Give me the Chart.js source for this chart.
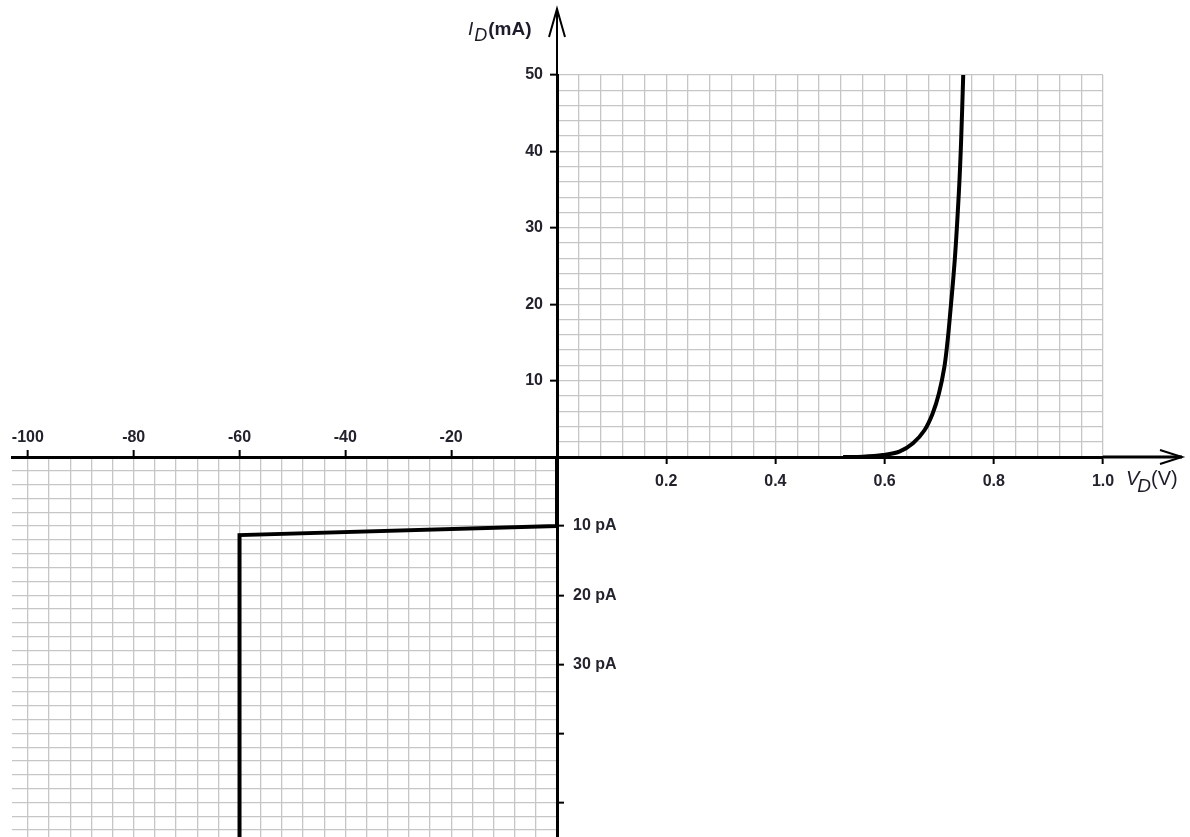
<!DOCTYPE html>
<html>
<head>
<meta charset="utf-8">
<title>Diode I-V characteristic</title>
<script src="https://cdn.jsdelivr.net/npm/chart.js@4.4.1/dist/chart.umd.min.js"></script>
<style>
  html, body { margin: 0; padding: 0; background: #ffffff; }
  #wrap { position: relative; width: 1190px; height: 837px; overflow: hidden; }
  #wrap canvas { position: absolute; left: 0; top: 0; }
</style>
</head>
<body>
<div id="wrap">
  <canvas id="rev" width="1190" height="837"></canvas>
  <canvas id="fwd" width="1190" height="837"></canvas>
</div>
<script>
// ---------- data ----------
// Forward bias: V_D in volts, I_D in mA
const forwardVoltage   = [0.524, 0.56, 0.597, 0.627, 0.652, 0.673, 0.688, 0.6995, 0.7095, 0.7155, 0.719, 0.7285, 0.736, 0.740, 0.744];
const forwardCurrentMA = [0,     0.04, 0.26,  0.7,   1.8,   3.5,   5.7,   8.3,    11.8,   15.3,   17.9,  25.8,   34.6,  41.1,  50];
// Reverse bias: V_D in volts, I_D in pA (negative = reverse current)
const reverseVoltage   = [0, 0,   -60,   -60];
const reverseCurrentPA = [0, -10, -11.3, -70];
// tick labels
const forwardVTicks   = [0.2, 0.4, 0.6, 0.8, 1.0];
const forwardITicks   = [10, 20, 30, 40, 50];
const reverseVTicks   = [-100, -80, -60, -40, -20];
const reverseILabels  = [10, 20, 30];
const reverseIMarks   = [10, 20, 30, 40, 50];

// ---------- helpers ----------
const isIn = (arr, v) => arr.some(a => Math.abs(a - v) < 1e-6);
const FAM = '"Liberation Sans", Arial, sans-serif';
const tickFont = { family: FAM, size: 16, weight: 'bold' };
const tickColor = '#23232f';
const gridColor = '#c6c6c6';
const markColor = (arr, sign) => (c) => (c.tick && isIn(arr, sign * c.tick.value)) ? '#000000' : 'rgba(0,0,0,0)';
const fixSize = (prop, size) => (s) => {
  s[prop] = size;
  s.paddingTop = 0; s.paddingBottom = 0; s.paddingLeft = 0; s.paddingRight = 0;
};

const baseOptions = {
  responsive: false,
  animation: false,
  events: [],
  plugins: { legend: { display: false }, tooltip: { enabled: false } },
};

// ---------- decorations: axis extensions, arrows, axis titles ----------
const decor = {
  id: 'decor',
  afterDraw(chart) {
    const { ctx, chartArea: a, scales } = chart;
    const y0 = scales.y.getPixelForValue(0);
    const x0 = scales.x.getPixelForValue(0);
    const tipX = a.right + 79;
    const tipY = 9;
    ctx.save();
    ctx.strokeStyle = '#000';
    ctx.lineCap = 'butt';
    // x axis extension
    ctx.lineWidth = 3;
    ctx.beginPath();
    ctx.moveTo(a.right, y0); ctx.lineTo(tipX, y0);
    ctx.stroke();
    // y axis extension
    ctx.lineWidth = 2;
    ctx.beginPath();
    ctx.moveTo(x0, a.top); ctx.lineTo(x0, tipY + 1);
    ctx.stroke();
    // arrowheads (open)
    ctx.lineWidth = 2;
    ctx.beginPath();
    ctx.moveTo(tipX - 22, y0 - 7); ctx.lineTo(tipX, y0); ctx.lineTo(tipX - 22, y0 + 7);
    ctx.moveTo(x0 - 8, tipY + 28); ctx.lineTo(x0, tipY); ctx.lineTo(x0 + 8, tipY + 28);
    ctx.stroke();

    // axis titles
    ctx.fillStyle = '#1c1c2c';
    ctx.textBaseline = 'alphabetic';
    ctx.textAlign = 'left';
    // I_D(mA)
    let x = x0 - 89;
    ctx.font = 'italic 19px ' + FAM;
    ctx.fillText('I', x, 35);
    x += ctx.measureText('I').width + 1;
    ctx.font = 'italic 18px ' + FAM;
    ctx.fillText('D', x, 41);
    x += ctx.measureText('D').width + 1;
    ctx.font = 'bold 19px ' + FAM;
    ctx.fillText('(mA)', x, 35);
    // V_D(V)
    let vx = a.right + 23;
    ctx.font = 'italic 20px ' + FAM;
    ctx.fillText('V', vx, 485);
    vx += ctx.measureText('V').width - 2;
    ctx.font = 'italic 19px ' + FAM;
    ctx.fillText('D', vx, 492);
    vx += ctx.measureText('D').width;
    ctx.font = '20px ' + FAM;
    ctx.fillText('(V)', vx, 485);
    ctx.restore();
  }
};

// ---------- forward quadrant (I) ----------
new Chart(document.getElementById('fwd'), {
  type: 'line',
  data: {
    datasets: [{
      data: forwardVoltage.map((v, i) => ({ x: v, y: forwardCurrentMA[i] })),
      borderColor: '#000000',
      borderWidth: 4,
      pointRadius: 0,
      fill: false,
      tension: 0.35,
      borderJoinStyle: 'round'
    }]
  },
  options: Object.assign({}, baseOptions, {
    layout: { autoPadding: false, padding: { left: 497, right: 87, top: 75, bottom: 340 } },
    scales: {
      x: {
        type: 'linear', position: 'bottom', min: 0, max: 1.0,
        afterFit: fixSize('height', 40),
        ticks: {
          stepSize: 0.04, autoSkip: false, maxRotation: 0, minRotation: 0, maxTicksLimit: 1000,
          padding: 8, font: tickFont, color: tickColor,
          callback: v => isIn(forwardVTicks, v) ? v.toFixed(1) : ''
        },
        grid: { color: gridColor, lineWidth: 1.3, tickLength: 7, tickWidth: 2, tickColor: markColor(forwardVTicks, 1) },
        border: { display: true, color: '#000000', width: 3 }
      },
      y: {
        type: 'linear', position: 'left', min: 0, max: 50,
        afterFit: fixSize('width', 60),
        ticks: {
          stepSize: 2, autoSkip: false, maxTicksLimit: 1000,
          padding: 7, font: tickFont, color: tickColor,
          callback: v => isIn(forwardITicks, v) ? String(v) : ''
        },
        grid: { color: gridColor, lineWidth: 1.3, tickLength: 7, tickWidth: 2, tickColor: markColor(forwardITicks, 1) },
        border: { display: true, color: '#000000', width: 3 }
      }
    }
  }),
  plugins: [decor]
});

// ---------- reverse quadrant (III) ----------
new Chart(document.getElementById('rev'), {
  type: 'line',
  data: {
    datasets: [{
      data: reverseVoltage.map((v, i) => ({ x: v, y: reverseCurrentPA[i] })),
      borderColor: '#000000',
      borderWidth: 4,
      pointRadius: 0,
      fill: false,
      tension: 0,
      borderJoinStyle: 'miter'
    }]
  },
  options: Object.assign({}, baseOptions, {
    layout: { autoPadding: false, padding: { left: 12, right: 553, top: 427, bottom: 0 } },
    scales: {
      x: {
        type: 'linear', position: 'top', min: -103, max: 0,
        afterFit: fixSize('height', 30),
        ticks: {
          stepSize: 4, includeBounds: false, autoSkip: false, maxRotation: 0, minRotation: 0, maxTicksLimit: 1000,
          padding: 3, font: tickFont, color: tickColor,
          callback: v => isIn(reverseVTicks, v) ? String(v) : ''
        },
        grid: { color: gridColor, lineWidth: 1.3, tickLength: 7, tickWidth: 2, tickColor: markColor(reverseVTicks, 1) },
        border: { display: true, color: '#000000', width: 3 }
      },
      y: {
        type: 'linear', position: 'right', min: -55, max: 0,
        afterFit: fixSize('width', 80),
        ticks: {
          stepSize: 2, includeBounds: false, autoSkip: false, maxTicksLimit: 1000,
          padding: 9, font: tickFont, color: tickColor,
          callback: v => isIn(reverseILabels, -v) ? (-v) + ' pA' : ''
        },
        grid: { color: gridColor, lineWidth: 1.3, tickLength: 7, tickWidth: 2, tickColor: markColor(reverseIMarks, -1) },
        border: { display: true, color: '#000000', width: 3 }
      }
    }
  })
});
</script>
</body>
</html>
